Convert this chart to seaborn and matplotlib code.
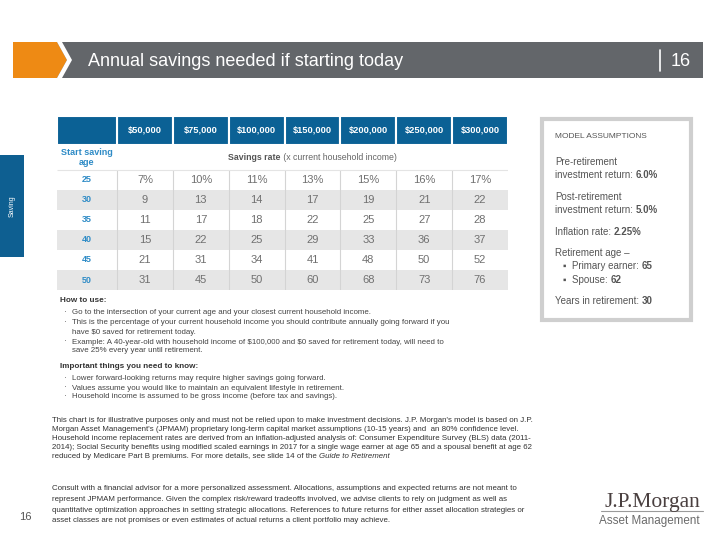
import numpy as np
import pandas as pd
import matplotlib
matplotlib.use("Agg")
import matplotlib.pyplot as plt
import seaborn as sns
from matplotlib.colors import ListedColormap
from matplotlib.patches import Rectangle, Polygon

# ---------------- data ----------------
incomes = ["$50,000", "$75,000", "$100,000", "$150,000", "$200,000", "$250,000", "$300,000"]
ages = [25, 30, 35, 40, 45, 50]
rate_25 = [7, 10, 11, 13, 15, 16, 17]
rate_30 = [9, 13, 14, 17, 19, 21, 22]
rate_35 = [11, 17, 18, 22, 25, 27, 28]
rate_40 = [15, 22, 25, 29, 33, 36, 37]
rate_45 = [21, 31, 34, 41, 48, 50, 52]
rate_50 = [31, 45, 50, 60, 68, 73, 76]

title = "Annual savings needed if starting today"
page = "16"

assumptions = [
    [("Pre-retirement", "normal")],
    [("investment return: ", "normal"), ("6.0%", "bold")],
    [("Post-retirement", "normal")],
    [("investment return: ", "normal"), ("5.0%", "bold")],
    [("Inflation rate: ", "normal"), ("2.25%", "bold")],
    [("Retirement age \u2013", "normal")],
    [("\u25aa  Primary earner: ", "normal"), ("65", "bold")],
    [("\u25aa  Spouse: ", "normal"), ("62", "bold")],
    [("Years in retirement: ", "normal"), ("30", "bold")],
]

how_to_use = [
    ("How to use:", "head"),
    ("Go to the intersection of your current age and your closest current household income.", "bullet"),
    ("This is the percentage of your current household income you should contribute annually going forward if you", "bullet"),
    ("have $0 saved for retirement today.", "cont"),
    ("Example: A 40-year-old with household income of $100,000 and $0 saved for retirement today, will need to", "bullet"),
    ("save 25% every year until retirement.", "cont"),
    ("Important things you need to know:", "head"),
    ("Lower forward-looking returns may require higher savings going forward.", "bullet"),
    ("Values assume you would like to maintain an equivalent lifestyle in retirement.", "bullet"),
    ("Household income is assumed to be gross income (before tax and savings).", "bullet"),
]

footer_p1 = [
    "This chart is for illustrative purposes only and must not be relied upon to make investment decisions. J.P. Morgan's model is based on J.P.",
    "Morgan Asset Management's (JPMAM) proprietary long-term capital market assumptions (10-15 years) and  an 80% confidence level.",
    "Household income replacement rates are derived from an inflation-adjusted analysis of: Consumer Expenditure Survey (BLS) data (2011-",
    "2014); Social Security benefits using modified scaled earnings in 2017 for a single wage earner at age 65 and a spousal benefit at age 62",
    "reduced by Medicare Part B premiums. For more details, see slide 14 of the ",
]
footer_p2 = [
    "Consult with a financial advisor for a more personalized assessment. Allocations, assumptions and expected returns are not meant to",
    "represent JPMAM performance. Given the complex risk/reward tradeoffs involved, we advise clients to rely on judgment as well as",
    "quantitative optimization approaches in setting strategic allocations. References to future returns for either asset allocation strategies or",
    "asset classes are not promises or even estimates of actual returns a client portfolio may achieve.",
]

# ---------------- style ----------------
sns.set_theme(style="white")
plt.rcParams["font.family"] = ["Liberation Sans", "DejaVu Sans"]
plt.rcParams["text.parse_math"] = False

BLUE = "#0B6195"
LBLUE = "#2E8BC6"
GREY_ROW = "#E6E6E6"
ORANGE = "#EE8A14"
BAR_GREY = "#63666A"

fig = plt.figure(figsize=(7.2, 5.4), dpi=100)
bg = fig.add_axes([0, 0, 1, 1])
bg.set_xlim(0, 720)
bg.set_ylim(540, 0)
bg.axis("off")

# header bar
bg.add_patch(Rectangle((57, 42), 646, 36, color=BAR_GREY, lw=0))
bg.add_patch(Polygon([(13, 42), (57, 42), (67, 60), (57, 78), (13, 78)], closed=True, color=ORANGE, lw=0))
bg.add_patch(Polygon([(57, 42), (62, 42), (72, 60), (62, 78), (57, 78), (67, 60)], closed=True, color="white", lw=0))
bg.text(88, 61, title, color="white", fontsize=13, va="center", ha="left")
bg.plot([660, 660], [50, 71], color="white", lw=1.2)
bg.text(671, 61, page, color="white", fontsize=13, va="center", ha="left")

# left tab
bg.add_patch(Rectangle((0, 155), 24, 102, color="#0E5F91", lw=0))
bg.text(12, 206, "Saving", rotation=90, color="white", fontsize=5, ha="center", va="center")

# ---------------- table ----------------
tab = fig.add_axes([57 / 720, 1 - 290 / 540, 451 / 720, 174 / 540])
data = pd.DataFrame([rate_25, rate_30, rate_35, rate_40, rate_45, rate_50], index=ages, columns=incomes)
shade = pd.DataFrame([[i % 2] * len(incomes) for i in range(len(ages))], index=ages, columns=incomes)
annot = data.astype(str).values
annot[0] = [f"{v}%" for v in data.iloc[0]]
sns.heatmap(shade, annot=annot, fmt="", cmap=ListedColormap(["white", GREY_ROW]), vmin=0, vmax=1,
            cbar=False, ax=tab, linewidths=0,
            annot_kws=dict(color="#707070", fontsize=8))
lab_w = 60 / (391 / 7)
ncol = len(incomes)
nrow = len(ages)
tab.set_xlim(-lab_w, ncol)
tab.set_ylim(nrow, -2.7)
tab.axis("off")

odd = [i + 0.5 for i in range(nrow) if i % 2 == 1]
tab.barh(odd, width=lab_w, left=-lab_w, height=1, color=GREY_ROW, lw=0)
for i, a in enumerate(ages):
    tab.text(-lab_w / 2, i + 0.5, str(a), ha="center", va="center", color=LBLUE, fontsize=6.5, fontweight="bold")
tab.vlines(np.arange(0, ncol), 0, nrow, color="#D4D4D4", lw=0.8)
tab.hlines(0, -lab_w, ncol, color="#E4E4E4", lw=0.8)

# header row
tab.bar(np.arange(ncol) + 0.5, height=1.45, bottom=-2.7, width=1, color=BLUE, edgecolor="white", linewidth=1.5)
tab.bar([-lab_w / 2], height=1.45, bottom=-2.7, width=lab_w, color=BLUE, edgecolor="white", linewidth=1.5)
for i, inc in enumerate(incomes):
    tab.text(i + 0.5, -1.975, inc, ha="center", va="center", color="white", fontsize=6.7, fontweight="bold")

tab.text(-lab_w / 2, -0.62, "Start saving\nage", ha="center", va="center", color=LBLUE,
         fontsize=6.5, fontweight="bold", linespacing=1.05)
t1 = tab.text(ncol / 2, -0.62, "Savings rate", ha="left", va="center", color="#555555", fontsize=6.3, fontweight="bold")
t2 = tab.annotate(" (x current household income)", xy=(1, 0.5), xycoords=t1, ha="left", va="center",
                  color="#666666", fontsize=6.3)
fig.canvas.draw()
r = fig.canvas.get_renderer()
w = t1.get_window_extent(r).width + t2.get_window_extent(r).width
px_per_unit = tab.get_window_extent(r).width / (ncol + lab_w)
t1.set_x(ncol / 2 - w / 2 / px_per_unit)

# ---------------- how to use ----------------
ys = [301, 313, 323, 332, 342, 351, 367, 379, 388, 397]
for (txt, kind), y in zip(how_to_use, ys):
    if kind == "head":
        bg.text(60, y, txt, fontsize=5.9, fontweight="bold", color="#333333", va="center")
    elif kind == "bullet":
        bg.text(64, y, "\u00b7", fontsize=6, color="#555555", va="center")
        bg.text(72, y, txt, fontsize=5.7, color="#444444", va="center")
    else:
        bg.text(72, y, txt, fontsize=5.7, color="#444444", va="center")

# ---------------- assumptions box ----------------
bg.add_patch(Rectangle((542, 119), 149, 201, fill=False, edgecolor="#CFCFCF", lw=3))
bg.text(555, 137, "MODEL ASSUMPTIONS", fontsize=6, color="#555555", va="center")
box_ys = [162, 175, 197, 210, 232, 253, 266, 280, 301]
for parts, y in zip(assumptions, box_ys):
    x = 563 if parts[0][0].startswith("\u25aa") else 555
    prev = bg.text(x, y, parts[0][0], fontsize=7, color="#555555", va="center",
                   fontweight=parts[0][1])
    for txt, wt in parts[1:]:
        prev = bg.annotate(txt, xy=(1, 0.5), xycoords=prev, ha="left", va="center",
                           fontsize=7, color="#555555", fontweight=wt)

# ---------------- footer ----------------
FS = 5.7
fy = 421
for line in footer_p1:
    t = bg.text(52, fy, line, fontsize=FS, color="#333333", va="center")
    fy += 8.8
bg.annotate("Guide to Retirement", xy=(1, 0.5), xycoords=t, ha="left", va="center",
            fontsize=FS, color="#333333", style="italic")
fy = 489
for line in footer_p2:
    bg.text(52, fy, line, fontsize=FS, color="#333333", va="center")
    fy += 10.5

bg.text(25, 517, page, fontsize=8, color="#555555", ha="center", va="center")

# logo
bg.text(652, 503, "J.P.Morgan", family=["Liberation Serif", "DejaVu Serif"], fontsize=15.5,
        color="#4A4040", ha="center", va="center")
bg.plot([601, 703], [511, 511], color="#9A9A9A", lw=0.8)
bg.text(649, 521, "Asset Management", fontsize=8.4, color="#6B6B6B", ha="center", va="center")

fig.savefig("out.png", dpi=100)
